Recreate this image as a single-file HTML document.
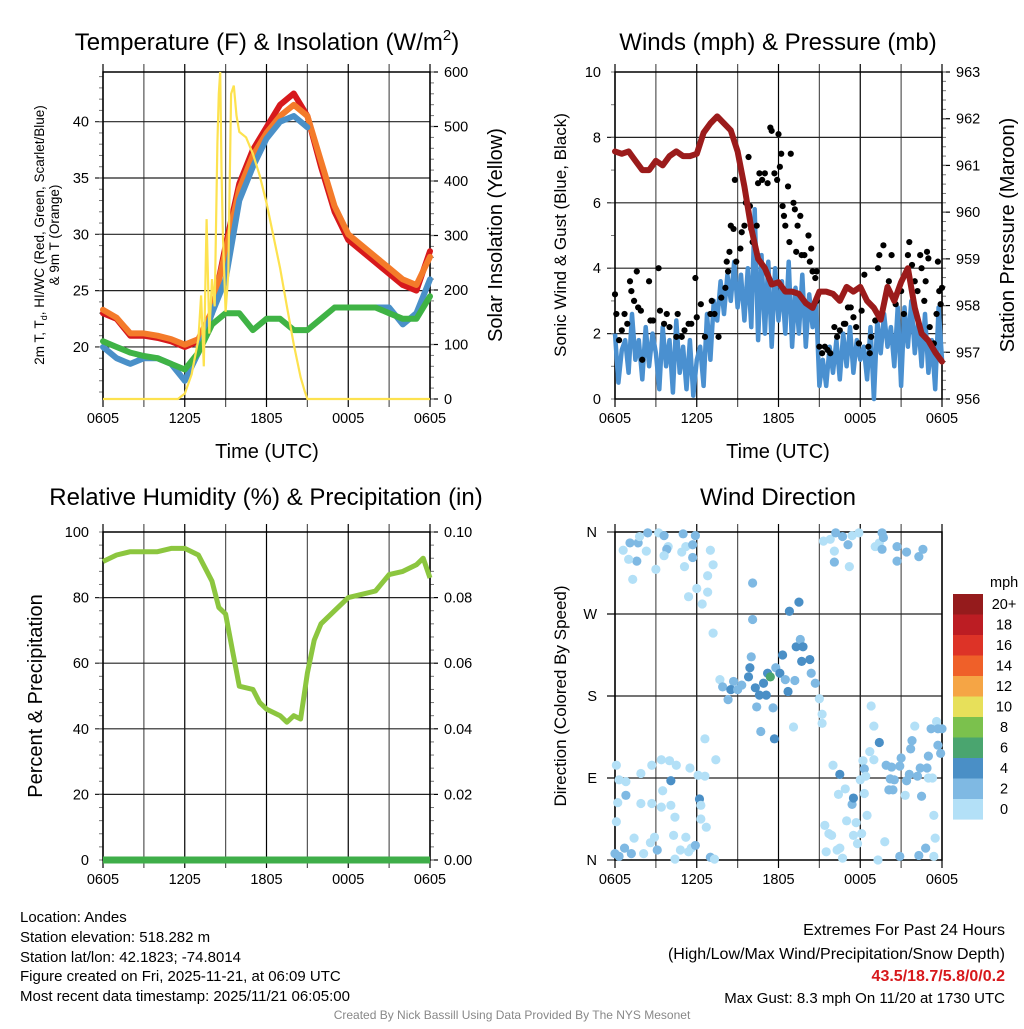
<!DOCTYPE html>
<html><head><meta charset="utf-8"><style>
body{margin:0;background:#fff}
svg text{font-family:"Liberation Sans",sans-serif}
</style></head><body>
<svg id="svg" width="1024" height="1024" viewBox="0 0 1024 1024" xmlns="http://www.w3.org/2000/svg">
<rect width="1024" height="1024" fill="#fff"/>
<text x="267" y="50" font-size="24" text-anchor="middle">Temperature (F) &amp; Insolation (W/m<tspan font-size="15" dy="-10">2</tspan><tspan dy="10">)</tspan></text>
<text x="778" y="50" font-size="24" text-anchor="middle">Winds (mph) &amp; Pressure (mb)</text>
<text x="266" y="505" font-size="24" text-anchor="middle">Relative Humidity (%) &amp; Precipitation (in)</text>
<text x="778" y="505" font-size="24" text-anchor="middle">Wind Direction</text>
<text transform="translate(44,235) rotate(-90)" font-size="13.5" text-anchor="middle">2m T, T<tspan font-size="9" dy="3">d</tspan><tspan dy="-3">, HI/WC (Red, Green, Scarlet/Blue)</tspan></text>
<text transform="translate(59,235) rotate(-90)" font-size="13.5" text-anchor="middle">&amp; 9m T (Orange)</text>
<text transform="translate(502,235) rotate(-90)" font-size="20" text-anchor="middle">Solar Insolation (Yellow)</text>
<text x="267" y="458" font-size="20" text-anchor="middle">Time (UTC)</text>
<text transform="translate(566,235) rotate(-90)" font-size="17" text-anchor="middle">Sonic Wind &amp; Gust (Blue, Black)</text>
<text transform="translate(1014,235) rotate(-90)" font-size="20" text-anchor="middle">Station Pressure (Maroon)</text>
<text x="778" y="458" font-size="20" text-anchor="middle">Time (UTC)</text>
<text transform="translate(42,696) rotate(-90)" font-size="20" text-anchor="middle">Percent &amp; Precipitation</text>
<text transform="translate(566,696) rotate(-90)" font-size="17" text-anchor="middle">Direction (Colored By Speed)</text>
<g font-size="15">
<text x="20" y="922">Location: Andes</text>
<text x="20" y="942">Station elevation: 518.282 m</text>
<text x="20" y="962">Station lat/lon: 42.1823; -74.8014</text>
<text x="20" y="981">Figure created on Fri, 2025-11-21, at 06:09 UTC</text>
<text x="20" y="1001">Most recent data timestamp: 2025/11/21 06:05:00</text>
</g>
<g text-anchor="end">
<text x="1005" y="935" font-size="16">Extremes For Past 24 Hours</text>
<text x="1005" y="959" font-size="16">(High/Low/Max Wind/Precipitation/Snow Depth)</text>
<text x="1005" y="981" font-size="16" font-weight="bold" fill="#d7191c">43.5/18.7/5.8/0/0.2</text>
<text x="1005" y="1003" font-size="15">Max Gust: 8.3 mph On 11/20 at 1730 UTC</text>
</g>
<text x="512" y="1019" font-size="12" fill="#888" text-anchor="middle">Created By Nick Bassill Using Data Provided By The NYS Mesonet</text>
</svg>
<script>
// ---- Panel 1 data (hourly from 0605) ----
const tempRed=[23,22.5,21,21,20.8,20.5,20,20.5,23,29,34.5,37.5,39.5,41.5,42.5,40.5,36,32,29.5,28.5,27.5,26.5,25.5,25,28.5];
const tempOrange=[23.3,22.6,21.2,21.2,21,20.7,20.2,20.7,23.2,28.5,34,37,39,40.5,41.5,40.5,36.5,32.5,30,29,28,27,26,25.5,28];
const tempBlue=[20,19,18.5,19,19,18.5,17,19.5,23,26,33,36,38.5,40,40.5,39.5,null,null,null,null,23.5,23.5,22,23,26];
const tempGreen=[20.5,20,19.5,19.2,19,18.5,18,19.5,22,23,23,21.5,22.5,22.5,21.5,21.5,22.5,23.5,23.5,23.5,23.5,23,22.5,22.5,24.5];
const solarHours=[0,5.5,6,6.5,7,7.2,7.4,7.6,7.8,8,8.2,8.4,8.5,8.6,8.7,8.8,9,9.2,9.4,9.6,9.8,10,10.5,11,11.5,12,12.5,13,13.5,14,14.5,14.8,15,15.5,24];
const solarValues=[0,0,10,45,110,190,60,330,120,220,170,470,560,600,420,300,160,230,560,575,520,490,480,450,410,360,300,240,170,100,40,15,0,0,0];
// ---- Panel 2 data ----
const windQuarterHourly=[2,0.5,1.5,1.8,0.8,2.6,1.2,1.8,0.6,2.2,1.0,2.0,1.4,
0.3,2.2,1.0,1.8,0.2,2.4,0.8,1.6,0.3,1.8,0.1,1.2,
1.6,0.4,2.6,1.2,3.0,2.4,3.6,2.6,3.8,3.0,4.2,2.8,
3.8,2.4,4.0,2.2,5.8,1.8,4.4,2.0,4.2,1.6,4.0,2.4,
3.6,2.0,4.2,1.6,3.4,2.0,3.8,1.6,3.2,2.2,3.0,0.4,
1.2,0.4,1.6,0.8,1.8,0.6,2.0,1.0,2.2,0.8,1.8,1.2,
1.6,0.6,2.2,0.0,2.4,1.4,2.6,1.6,2.2,1.0,2.8,0.4,
2.8,1.6,3.0,1.4,2.4,1.0,2.6,0.8,1.8,0.3,2.8,1.2];
const gustHours=[0,0.1,0.3,0.5,0.7,0.9,1.1,1.2,1.4,1.6,1.7,1.9,2.0,2.5,2.6,2.8,3.2,3.3,3.6,3.8,4.0,4.5,4.6,4.9,5.1,5.4,5.6,5.9,6.0,6.3,6.6,7.0,7.1,7.3,7.6,7.8,8.1,8.2,8.3,8.4,8.5,8.7,8.8,8.9,9.2,9.3,9.5,9.6,9.8,9.9,10.0,10.1,10.4,10.5,10.6,10.8,11.0,11.2,11.4,11.5,11.7,11.9,12.0,12.1,12.2,12.3,12.4,12.5,12.7,12.8,12.9,13.1,13.2,13.3,13.4,13.6,13.7,13.9,14.2,14.3,14.4,14.5,14.7,14.8,14.8,15.0,15.2,15.4,15.6,15.8,16.1,16.3,16.5,16.8,16.9,17.1,17.3,17.5,17.7,17.9,18.1,18.3,18.6,18.7,18.8,19.1,19.3,19.4,19.7,20.1,20.3,20.6,21.0,21.2,21.5,21.6,21.8,22.0,22.2,22.4,22.5,22.7,22.8,22.9,23.0,23.1,23.4,23.6,23.7,23.8,24.0,23.9];
const gustValues=[3.2,2.6,1.8,2.1,2.6,2.3,3.6,3.3,3.0,3.9,2.8,2.7,1.2,3.6,2.4,2.4,4.0,2.7,2.3,2.6,2.2,1.9,2.6,1.9,2.1,2.3,2.3,3.7,2.5,2.9,1.9,2.6,3.0,2.6,1.9,3.1,3.4,4.2,3.9,4.5,5.3,5.2,6.7,4.2,4.6,5.1,5.3,6.0,7.4,5.9,5.2,4.8,5.3,6.6,6.9,6.7,6.9,6.6,8.3,8.2,6.9,6.7,8.1,7.1,7.5,5.9,5.6,5.3,6.5,4.8,7.5,6.0,5.8,4.5,5.3,5.6,4.4,4.4,5.0,4.2,4.6,3.9,3.7,3.9,3.0,1.6,1.4,1.6,1.5,1.4,2.2,1.9,2.1,2.3,2.3,2.8,2.8,2.5,2.2,1.7,2.7,3.8,1.6,1.4,1.9,2.4,4.0,4.4,4.7,3.6,4.4,2.9,3.3,2.6,4.4,4.8,4.1,3.6,3.3,4.4,4.0,3.0,3.6,4.5,4.3,2.2,1.7,2.6,4.2,3.3,3.4,2.9];
const pressureHalfHourly=[961.3,961.25,961.3,961.1,960.9,960.9,961.1,961.0,961.2,961.3,961.2,961.2,961.25,961.7,961.9,962.05,961.9,961.75,961.3,960.55,959.65,959.0,958.8,958.45,958.5,958.3,958.3,958.25,958.05,957.95,958.3,958.3,958.25,958.1,958.4,958.3,958.4,958.1,957.95,957.7,958.4,958.1,958.5,958.8,957.95,957.4,957.25,957.0,956.8];
// ---- Panel 3 data ----
const rhHours=[0,1,2,3,4,5,6,7,8,8.5,9,9.5,10,11,11.5,12,13,13.5,14,14.5,15,15.5,16,17,18,19,20,21,22,23,23.5,24];
const rhValues=[91,93,94,94,94,95,95,93,85,77,75,64,53,52,48,46,44,42,44,43,57,67,72,76,80,81,82,87,88,90,92,86];
const precipHours=[0,24];
const precipValues=[0,0];
// ---- Panel 4 data ----
const dirHours=[0.6,1.1,1.7,1.6,1.0,1.8,2.4,2.3,1.3,3.0,3.2,3.6,3.9,3.8,3.6,5.0,4.9,5.2,5.7,5.9,5.7,5.1,5.4,6.0,6.4,6.8,6.8,7.0,7.2,7.2,6.6,7.4,
7.7,7.9,8.3,8.7,8.5,9.0,9.3,9.8,9.9,10.0,10.1,10.1,10.3,10.4,10.6,10.7,10.9,11.1,11.2,11.4,11.6,11.7,11.8,12.1,12.3,12.5,12.7,12.8,13.1,13.2,13.3,13.5,13.6,13.7,13.8,14.3,14.4,14.7,15.0,15.2,15.2,
15.3,15.8,16.2,16.1,16.1,16.7,17.1,17.2,17.4,17.9,19.1,19.4,19.6,19.7,19.6,20.7,20.7,21.4,22.3,22.6,
0,0.3,0.7,1.2,0.1,0.2,0.3,0.8,0.8,0.1,1.4,1.9,1.9,2.1,2.7,2.7,2.6,2.9,3.1,3.4,3.5,3.4,4.0,4.1,4.1,4.4,4.5,4.3,4.4,4.8,5.2,5.4,5.5,5.6,5.9,6.1,6.2,6.3,6.3,6.6,6.7,7.0,7.3,
15.4,15.5,15.7,15.9,16.0,16.3,16.4,16.5,16.5,16.7,16.9,17.0,17.4,17.5,17.5,17.7,17.8,18.0,18.1,18.2,18.3,18.3,18.4,18.5,18.7,18.8,19.0,19.0,19.3,19.4,19.8,19.9,20.1,20.3,20.2,20.4,20.5,20.9,20.9,21.0,21.3,21.4,21.6,21.7,21.8,22.0,22.2,22.3,22.4,22.5,22.8,22.9,23.0,23.0,23.2,23.3,23.4,23.4,23.5,23.6,23.7,23.7,23.9,24.0];
const dirDegrees=[340,348,348,328,330,355,359,339,308,319,359,356,344,341,334,358,338,344,346,356,332,322,289,298,281,312,294,340,324,249,133,110,
198,190,176,196,187,187,192,201,211,223,304,264,189,168,181,141,194,181,205,201,167,133,211,205,225,198,185,273,146,197,234,283,242,218,234,220,205,194,177,150,160,
350,352,359,339,327,355,346,322,356,359,344,348,359,354,341,328,344,338,333,341,
7,4,13,7,104,63,88,86,71,42,24,95,62,7,104,62,19,25,11,110,76,58,109,60,87,47,104,27,1,11,25,9,101,13,16,93,67,60,45,92,36,3,1,
38,9,29,27,104,11,72,94,13,2,78,43,61,68,27,41,18,88,29,109,73,100,92,49,119,169,147,110,0,129,20,104,77,102,89,77,88,4,103,112,71,87,94,122,131,147,92,5,101,70,13,101,90,114,144,90,49,4,24,152,144,126,117,144];
const dirSpeeds=[1,3,3,3,1,1,3,1,1,1,1,3,1,3,1,3,1,1,3,3,3,1,1,1,1,1,1,1,1,1,1,1,
1,3,3,3,5,3,3,5,5,3,3,3,5,3,5,3,5,5,5,7,3,5,3,5,5,3,5,5,1,3,5,5,3,5,5,5,3,3,1,1,1,
1,1,3,1,3,3,3,1,1,1,1,1,3,3,3,3,3,3,3,3,
3,3,3,3,1,1,1,1,3,1,1,1,1,1,1,1,1,1,3,1,1,1,1,1,5,1,1,1,1,1,1,1,1,1,3,1,5,1,1,1,1,3,1,
1,1,1,1,1,1,1,5,1,1,1,1,3,5,1,1,1,1,1,1,1,3,1,1,1,1,1,1,1,5,1,3,3,3,3,3,3,3,3,3,1,3,3,3,3,1,3,3,3,3,3,3,1,3,3,1,1,1,1,1,3,3,3,3];
const colorbarLabels=['20+','18','16','14','12','10','8','6','4','2','0'];
const colorbarColors=['#951b1c','#bc1d23','#dd3327','#ef6029','#f5a545','#e7e05a','#7bc14d','#4aa56f','#4a8fc6','#7fb9e3','#b3e0f7'];
const timeTickLabels=['0605','1205','1805','0005','0605'];

const NS='http://www.w3.org/2000/svg';
const svg=document.getElementById('svg');
function mk(tag,attrs,parent){const e=document.createElementNS(NS,tag);for(const k in attrs)e.setAttribute(k,attrs[k]);(parent||svg).appendChild(e);return e;}
function lin(d0,d1,r0,r1){return v=>r0+(v-d0)*(r1-r0)/(d1-d0);}

function panel(name,x0,x1,y0,y1,leftMin,leftMax,leftMajor,leftMinor,leftFmt,leftGrid,rightMin,rightMax,rightMajor,rightMinor,rightFmt){
  const g=mk('g',{});
  
  
  const X=lin(0,24,x0,x1);
  for(let h=0;h<=24;h+=3){
    const l=mk('line',{x1:X(h),x2:X(h),y1:y0-8,y2:y1+8,stroke:h%6==0?'#000':'#555','stroke-width':1.2},g);
    
    
  }
  timeTickLabels.forEach((t,i)=>{
    const tx=mk('text',{x:X(i*6),y:y1+24,'font-size':14.5,'text-anchor':'middle'},g);
    tx.textContent=t;
    
    
  });
  const YL=lin(leftMin,leftMax,y1,y0);
  for(const v of leftGrid){
    const l=mk('line',{x1:x0-8,x2:x1,y1:YL(v),y2:YL(v),stroke:'#222','stroke-width':1.2},g);
    
    
  }
  for(const v of leftMajor){
    const tx=mk('text',{x:x0-14,y:YL(v)+5,'font-size':14.5,'text-anchor':'end'},g);
    tx.textContent=leftFmt(v);
    
    
  }
  for(const v of leftMinor){ if(v>=leftMin&&v<=leftMax) mk('line',{x1:x0-4,x2:x0,y1:YL(v),y2:YL(v),stroke:'#777'},g); }
  if(rightMajor){
    const YR=lin(rightMin,rightMax,y1,y0);
    for(const v of rightMajor){
      mk('line',{x1:x1,x2:x1+8,y1:YR(v),y2:YR(v),stroke:'#000','stroke-width':1.2},g);
      const tx=mk('text',{x:x1+14,y:YR(v)+5,'font-size':14.5},g);
      tx.textContent=rightFmt(v);
      
      
    }
    for(const v of rightMinor) mk('line',{x1:x1,x2:x1+4,y1:YR(v),y2:YR(v),stroke:'#777'},g);
  }
  const fr=mk('rect',{x:x0,y:y0,width:x1-x0,height:y1-y0,fill:'none',stroke:'#000','stroke-width':1.5},g);
  
  
  return X;
}
function range(a,b,s){const r=[];for(let v=a;v<=b+1e-9;v+=s)r.push(+v.toFixed(4));return r;}
function pathFrom(xs,ys,X,Y){let d='',pen=false;for(let i=0;i<xs.length;i++){if(ys[i]==null){pen=false;continue;}d+=(pen?'L':'M')+X(xs[i]).toFixed(1)+','+Y(ys[i]).toFixed(1);pen=true;}return d;}
const hourly=range(0,24,1);

// Panel 1
const X1=panel('temp',103,430,72,399,15.38,44.41,[20,25,30,35,40],range(16,44,1),v=>v,[20,25,30,35,40],0,600,range(0,600,100),range(0,600,20),v=>v);
const YT=lin(15.38,44.41,399,72), YS=lin(0,600,399,72);
const c1=mk('g',{});
[['temp-red-2m-t',tempRed,'#d7191c'],['temp-orange-9m-t',tempOrange,'#f47b2a'],['temp-blue-wind-chill',tempBlue,'#4a90c8'],['temp-green-dewpoint',tempGreen,'#3fb345']].forEach(s=>{
  const p=mk('path',{d:pathFrom(hourly,s[1],X1,YT),fill:'none',stroke:s[2],'stroke-width':6,'stroke-linejoin':'round','stroke-linecap':'round'},c1);
  
  
});
const sp=mk('path',{d:pathFrom(solarHours,solarValues,X1,YS),fill:'none',stroke:'#fde24f','stroke-width':2.2},c1);



// Panel 2
const X2=panel('wind',615,942,72,399,0,10,[0,2,4,6,8,10],range(0,10,1),v=>v,[2,4,6,8],956,963,range(956,963,1),range(956,963,0.2),v=>v);
const YW=lin(0,10,399,72), YP=lin(956,963,399,72);
const qh=windQuarterHourly.map((v,i)=>i*0.25);
const wp=mk('path',{d:pathFrom(qh,windQuarterHourly,X2,YW),fill:'none',stroke:'#4a90d0','stroke-width':4.5,'stroke-linejoin':'round'});


gustHours.forEach((h,i)=>{
  const c=mk('circle',{cx:X2(h),cy:YW(gustValues[i]),r:3.1,fill:'#000'});
  
  
});
const hh=pressureHalfHourly.map((v,i)=>i*0.5);
const pp=mk('path',{d:pathFrom(hh,pressureHalfHourly,X2,YP),fill:'none',stroke:'#9b1b1b','stroke-width':6,'stroke-linejoin':'round','stroke-linecap':'round'});



// Panel 3
const X3=panel('rh',103,430,532,860,0,100,[0,20,40,60,80,100],range(0,100,4),v=>v,[20,40,60,80],0,0.1,range(0,0.1,0.02),range(0,0.1,0.004),v=>v.toFixed(2));
const YH=lin(0,100,860,532), YPr=lin(0,0.1,860,532);
const rp=mk('path',{d:pathFrom(rhHours,rhValues,X3,YH),fill:'none',stroke:'#8cc63f','stroke-width':5,'stroke-linejoin':'round'});


const pr=mk('path',{d:pathFrom(precipHours,precipValues,X3,YPr),fill:'none',stroke:'#3fae49','stroke-width':7});



// Panel 4
const dirLabels=['N','E','S','W','N'];
const X4=panel('direction',615,942,532,860,0,360,[],[],v=>v,[90,180,270],0,0,null,[],v=>v);
const YD=lin(0,360,860,532);
dirLabels.forEach((t,i)=>{
  const tx=mk('text',{x:597,y:YD(i*90)+5,'font-size':14.5,'text-anchor':'end'});
  tx.textContent=t;
  
  
  mk('line',{x1:607,x2:615,y1:YD(i*90),y2:YD(i*90),stroke:'#000'});
});
function speedColor(s){const idx=Math.min(10,Math.floor(s/2));return colorbarColors[10-idx];}
dirHours.forEach((h,i)=>{
  const c=mk('circle',{cx:X4(h),cy:YD(dirDegrees[i]),r:4.6,fill:speedColor(dirSpeeds[i])});
  
  
});
const mphT=mk('text',{x:990,y:587,'font-size':14.5});
mphT.textContent='mph';


colorbarLabels.forEach((t,i)=>{
  const r=mk('rect',{x:953,y:594+i*20.5,width:30,height:20.6,fill:colorbarColors[i]});
  
  
  const tx=mk('text',{x:1004,y:594+i*20.5+15,'font-size':14.5,'text-anchor':'middle'});
  tx.textContent=t;
  
  
});
</script>
</body></html>
